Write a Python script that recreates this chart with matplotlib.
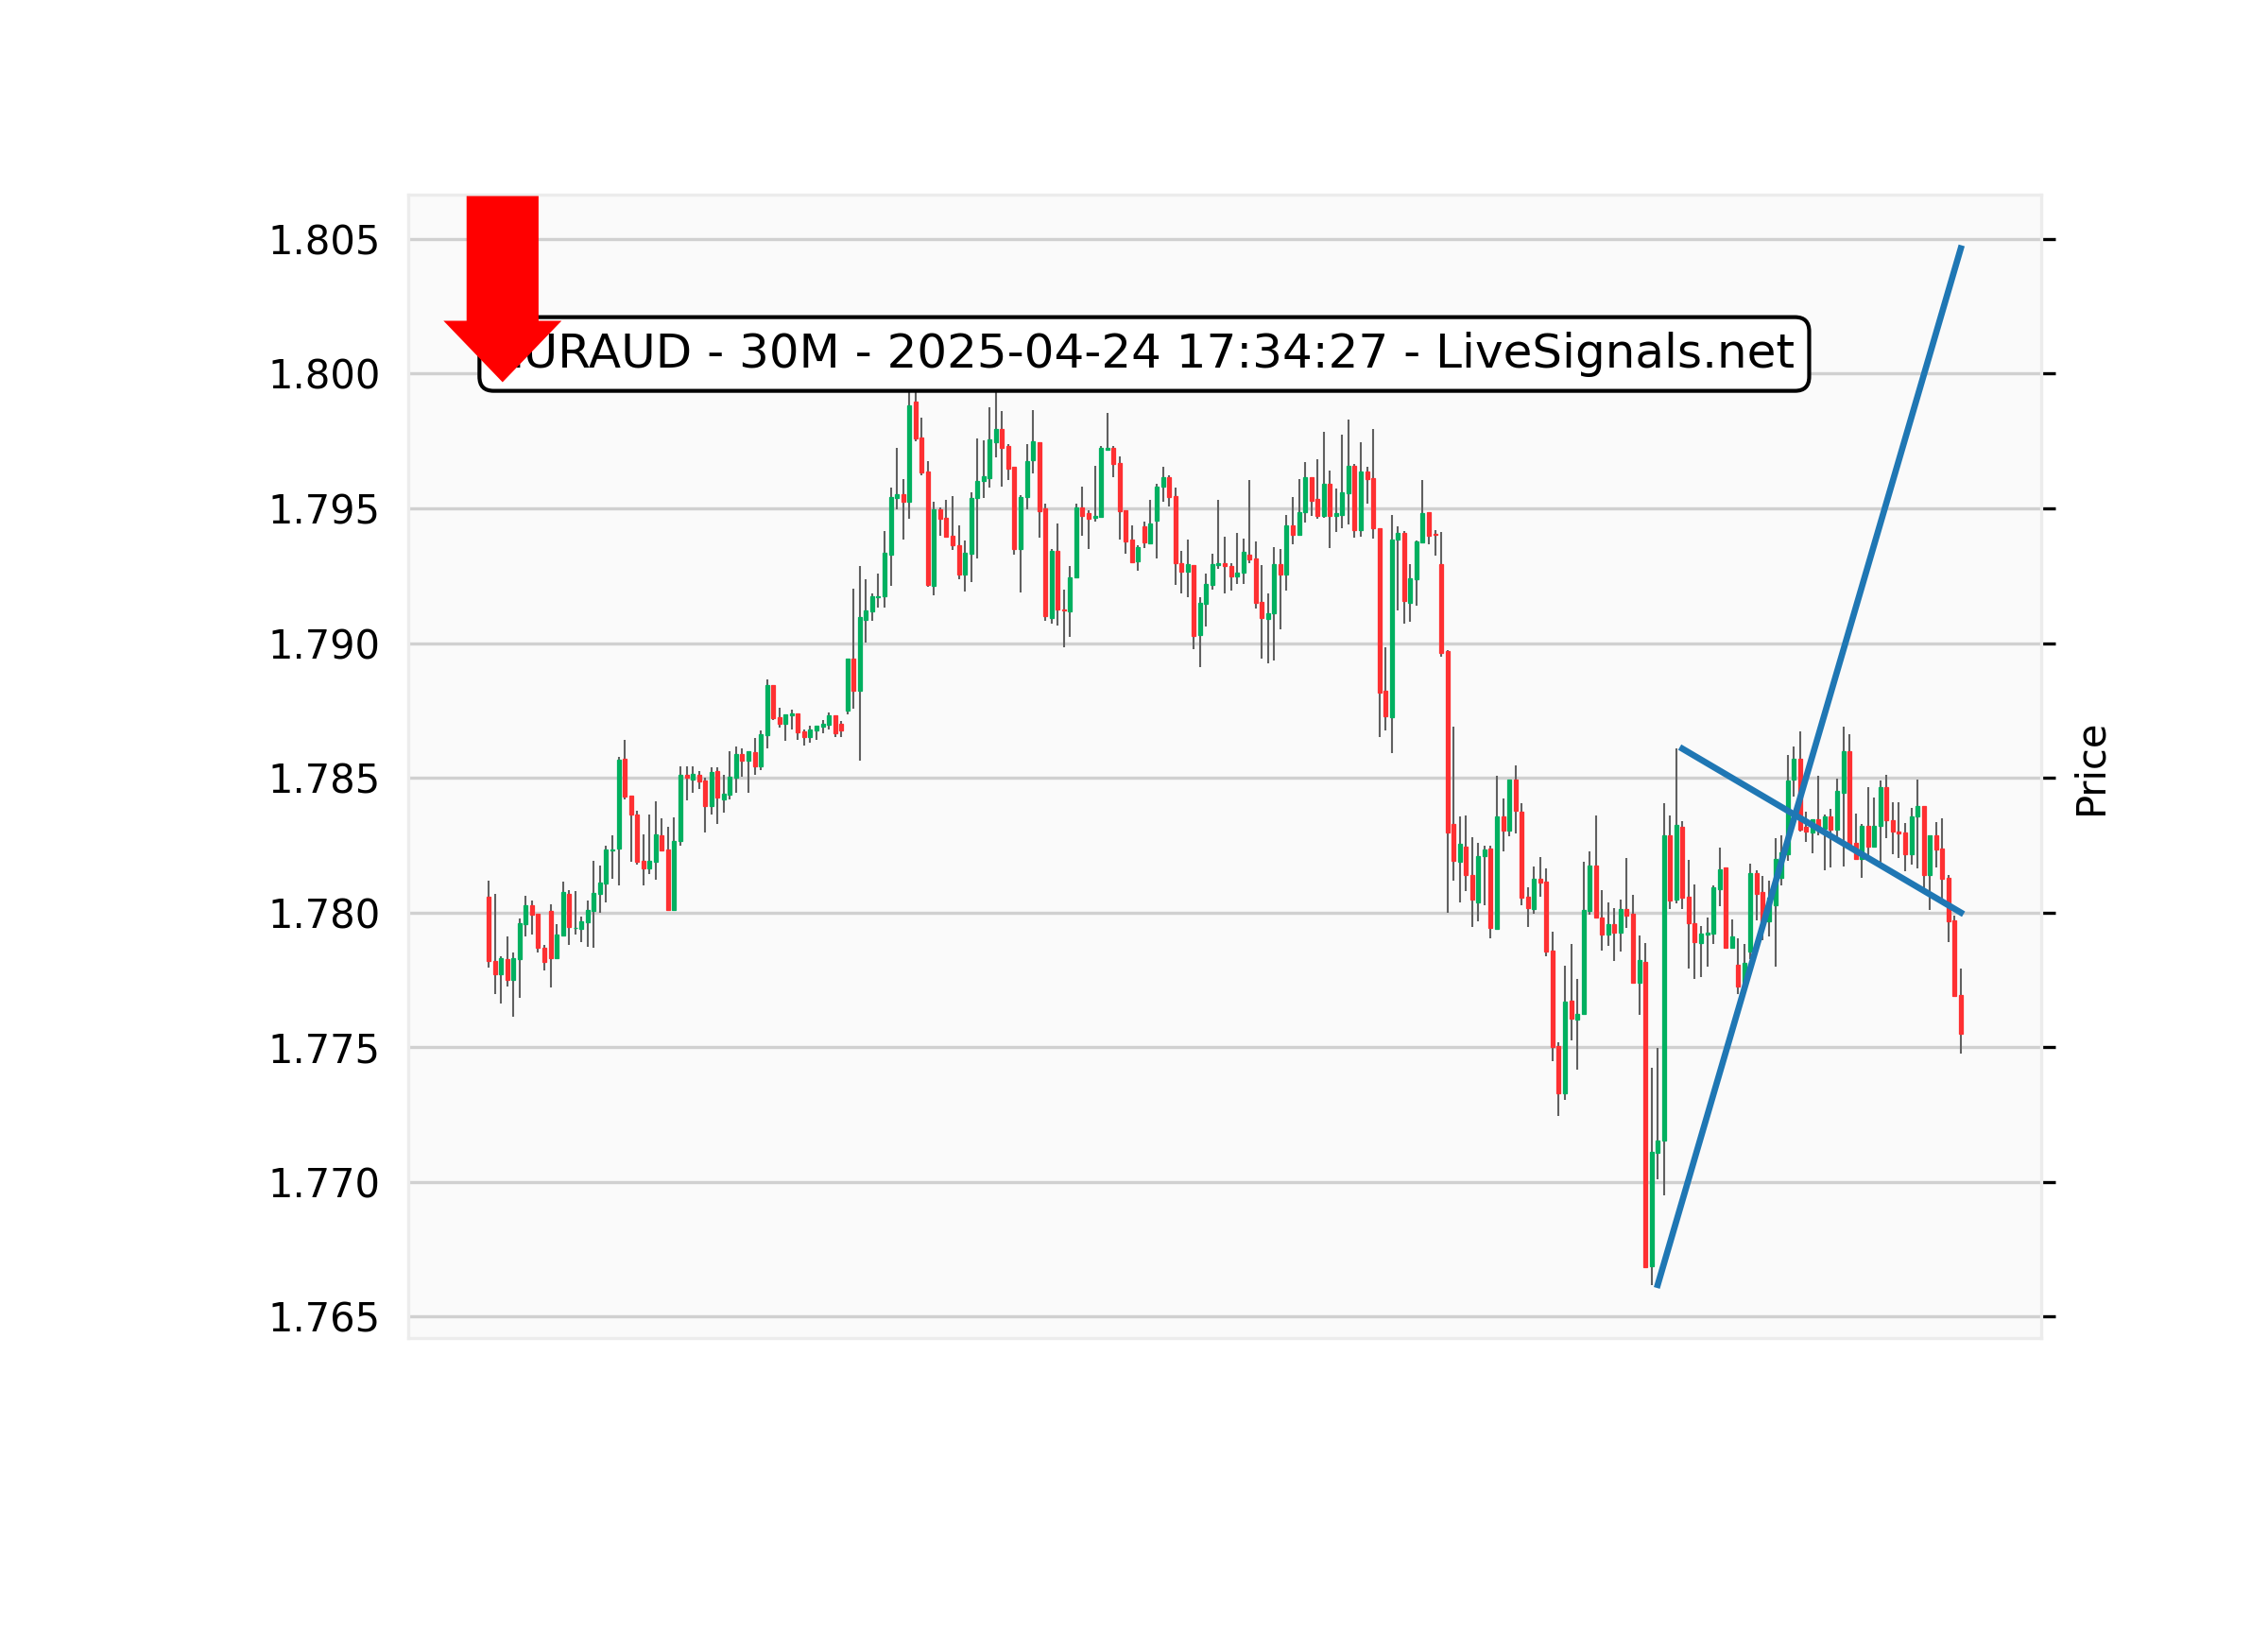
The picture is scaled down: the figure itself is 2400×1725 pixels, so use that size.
import numpy as np
import matplotlib
matplotlib.use("Agg")
import matplotlib.pyplot as plt
from matplotlib.patches import FancyArrow

# ---------------------------
# Price data (30M bars)
# ---------------------------

opens = [
    1.78058, 1.77820, 1.77772, 1.77827, 1.77750, 1.77827, 1.77957, 1.78027, 1.77995, 1.77869,
    1.78006, 1.77830, 1.77915, 1.78070, 1.77942, 1.77938, 1.77964, 1.78006, 1.78068, 1.78108,
    1.78232, 1.78238, 1.78571, 1.78434, 1.78364, 1.78192, 1.78164, 1.78188, 1.78287, 1.78234,
    1.78009, 1.78264, 1.78511, 1.78494, 1.78510, 1.78489, 1.78395, 1.78524, 1.78419, 1.78438,
    1.78500, 1.78587, 1.78562, 1.78596, 1.78541, 1.78658, 1.78844, 1.78725, 1.78701, 1.78732,
    1.78738, 1.78673, 1.78652, 1.78676, 1.78691, 1.78697, 1.78732, 1.78699, 1.78749, 1.78942,
    1.78822, 1.79085, 1.79118, 1.79171, 1.79173, 1.79328, 1.79539, 1.79553, 1.79526, 1.79895,
    1.79764, 1.79637, 1.79214, 1.79497, 1.79465, 1.79399, 1.79363, 1.79255, 1.79331, 1.79538,
    1.79602, 1.79614, 1.79746, 1.79795, 1.79732, 1.79655, 1.79348, 1.79541, 1.79678, 1.79745,
    1.79499, 1.79095, 1.79344, 1.79126, 1.79119, 1.79243, 1.79502, 1.79481, 1.79464, 1.79470,
    1.79719, 1.79725, 1.79668, 1.79493, 1.79383, 1.79303, 1.79432, 1.79371, 1.79453, 1.79581,
    1.79617, 1.79546, 1.79295, 1.79266, 1.79288, 1.79029, 1.79146, 1.79216, 1.79288, 1.79295,
    1.79286, 1.79247, 1.79262, 1.79329, 1.79315, 1.79154, 1.79091, 1.79110, 1.79292, 1.79253,
    1.79436, 1.79403, 1.79485, 1.79616, 1.79534, 1.79471, 1.79590, 1.79471, 1.79477, 1.79557,
    1.79657, 1.79418, 1.79636, 1.79611, 1.79428, 1.78822, 1.78726, 1.79383, 1.79410, 1.79151,
    1.79236, 1.79374, 1.79487, 1.79404, 1.79293, 1.78969, 1.78330, 1.78189, 1.78246, 1.78141,
    1.78036, 1.78211, 1.78237, 1.77941, 1.78356, 1.78303, 1.78494, 1.78374, 1.78058, 1.78012,
    1.78126, 1.78114, 1.77859, 1.77506, 1.77328, 1.77673, 1.77601, 1.77622, 1.78005, 1.78176,
    1.77983, 1.77917, 1.77958, 1.77924, 1.78014, 1.77997, 1.77740, 1.77817, 1.76687, 1.77108,
    1.77153, 1.78285, 1.78049, 1.78317, 1.78060, 1.77962, 1.77886, 1.77920, 1.77921, 1.78086,
    1.78167, 1.77871, 1.77806, 1.77729, 1.77854, 1.78146, 1.78076, 1.77968, 1.78028, 1.78130,
    1.78218, 1.78493, 1.78569, 1.78317, 1.78298, 1.78347, 1.78312, 1.78358, 1.78306, 1.78446,
    1.78598, 1.78259, 1.78200, 1.78323, 1.78244, 1.78321, 1.78466, 1.78344, 1.78302, 1.78298,
    1.78218, 1.78356, 1.78394, 1.78138, 1.78288, 1.78236, 1.78130, 1.77972, 1.77695,
]

highs = [
    1.78118, 1.78070, 1.77837, 1.77912, 1.77851, 1.77979, 1.78063, 1.78044, 1.77995, 1.77881,
    1.78032, 1.77957, 1.78115, 1.78084, 1.78080, 1.77986, 1.78044, 1.78193, 1.78176, 1.78249,
    1.78288, 1.78579, 1.78642, 1.78434, 1.78378, 1.78291, 1.78364, 1.78414, 1.78351, 1.78319,
    1.78355, 1.78543, 1.78541, 1.78541, 1.78524, 1.78501, 1.78539, 1.78539, 1.78512, 1.78600,
    1.78618, 1.78610, 1.78598, 1.78649, 1.78676, 1.78865, 1.78844, 1.78760, 1.78736, 1.78754,
    1.78738, 1.78681, 1.78695, 1.78692, 1.78716, 1.78743, 1.78732, 1.78711, 1.78942, 1.79202,
    1.79286, 1.79237, 1.79184, 1.79258, 1.79416, 1.79579, 1.79723, 1.79608, 1.79960, 1.79960,
    1.79836, 1.79676, 1.79524, 1.79503, 1.79532, 1.79544, 1.79436, 1.79381, 1.79561, 1.79758,
    1.79752, 1.79874, 1.79940, 1.79860, 1.79737, 1.79655, 1.79549, 1.79737, 1.79866, 1.79745,
    1.79516, 1.79348, 1.79444, 1.79198, 1.79286, 1.79518, 1.79581, 1.79493, 1.79658, 1.79733,
    1.79856, 1.79733, 1.79693, 1.79493, 1.79438, 1.79362, 1.79450, 1.79532, 1.79590, 1.79654,
    1.79623, 1.79578, 1.79344, 1.79383, 1.79288, 1.79172, 1.79257, 1.79333, 1.79532, 1.79395,
    1.79295, 1.79409, 1.79388, 1.79604, 1.79376, 1.79288, 1.79184, 1.79358, 1.79348, 1.79475,
    1.79541, 1.79610, 1.79672, 1.79616, 1.79682, 1.79785, 1.79641, 1.79575, 1.79774, 1.79830,
    1.79666, 1.79747, 1.79654, 1.79795, 1.79428, 1.78983, 1.79475, 1.79433, 1.79416, 1.79293,
    1.79381, 1.79607, 1.79487, 1.79418, 1.79412, 1.78975, 1.78691, 1.78357, 1.78360, 1.78280,
    1.78257, 1.78248, 1.78248, 1.78508, 1.78422, 1.78494, 1.78547, 1.78406, 1.78094, 1.78170,
    1.78205, 1.78164, 1.77929, 1.77517, 1.77804, 1.77883, 1.77754, 1.78190, 1.78227, 1.78360,
    1.78083, 1.78037, 1.78017, 1.78049, 1.78201, 1.78065, 1.77914, 1.77886, 1.77424, 1.77497,
    1.78406, 1.78361, 1.78608, 1.78340, 1.78194, 1.78104, 1.77951, 1.77983, 1.78101, 1.78240,
    1.78167, 1.77975, 1.77903, 1.77885, 1.78181, 1.78156, 1.78136, 1.78118, 1.78277, 1.78288,
    1.78583, 1.78616, 1.78674, 1.78376, 1.78347, 1.78507, 1.78364, 1.78384, 1.78496, 1.78690,
    1.78663, 1.78367, 1.78329, 1.78467, 1.78426, 1.78489, 1.78511, 1.78411, 1.78408, 1.78332,
    1.78390, 1.78493, 1.78397, 1.78285, 1.78335, 1.78349, 1.78138, 1.77990, 1.77791,
]

lows = [
    1.77795, 1.77699, 1.77661, 1.77725, 1.77612, 1.77682, 1.77910, 1.77918, 1.77851, 1.77784,
    1.77723, 1.77828, 1.77913, 1.77881, 1.77920, 1.77889, 1.77874, 1.77871, 1.77998, 1.78036,
    1.78124, 1.78099, 1.78419, 1.78188, 1.78177, 1.78099, 1.78143, 1.78121, 1.78232, 1.78009,
    1.78009, 1.78249, 1.78415, 1.78446, 1.78460, 1.78296, 1.78363, 1.78328, 1.78370, 1.78421,
    1.78446, 1.78503, 1.78445, 1.78512, 1.78527, 1.78611, 1.78713, 1.78685, 1.78636, 1.78679,
    1.78640, 1.78619, 1.78632, 1.78640, 1.78664, 1.78678, 1.78652, 1.78650, 1.78734, 1.78755,
    1.78564, 1.79003, 1.79083, 1.79132, 1.79132, 1.79211, 1.79497, 1.79383, 1.79463, 1.79750,
    1.79623, 1.79208, 1.79176, 1.79399, 1.79395, 1.79345, 1.79237, 1.79190, 1.79225, 1.79315,
    1.79538, 1.79579, 1.79691, 1.79582, 1.79606, 1.79327, 1.79187, 1.79498, 1.79631, 1.79391,
    1.79083, 1.79073, 1.79064, 1.78985, 1.79023, 1.79243, 1.79397, 1.79350, 1.79450, 1.79467,
    1.79713, 1.79617, 1.79385, 1.79333, 1.79301, 1.79268, 1.79354, 1.79371, 1.79315, 1.79526,
    1.79508, 1.79216, 1.79184, 1.79169, 1.78976, 1.78912, 1.79060, 1.79200, 1.79274, 1.79186,
    1.79195, 1.79219, 1.79218, 1.79298, 1.79130, 1.78943, 1.78926, 1.78937, 1.79052, 1.79196,
    1.79368, 1.79403, 1.79447, 1.79472, 1.79462, 1.79466, 1.79353, 1.79412, 1.79427, 1.79441,
    1.79393, 1.79396, 1.79519, 1.79387, 1.78650, 1.78675, 1.78592, 1.79123, 1.79073, 1.79079,
    1.79138, 1.79371, 1.79368, 1.79324, 1.78951, 1.78000, 1.78117, 1.78038, 1.78081, 1.77948,
    1.77968, 1.78028, 1.77906, 1.77941, 1.78227, 1.78284, 1.78295, 1.78028, 1.77948, 1.77997,
    1.78058, 1.77839, 1.77449, 1.77245, 1.77303, 1.77525, 1.77418, 1.77622, 1.77991, 1.77980,
    1.77857, 1.77878, 1.77819, 1.77854, 1.77944, 1.77740, 1.77621, 1.76683, 1.76618, 1.77010,
    1.76951, 1.78014, 1.78035, 1.78014, 1.77792, 1.77753, 1.77760, 1.77799, 1.77885, 1.78024,
    1.77864, 1.77868, 1.77699, 1.77700, 1.77826, 1.77972, 1.77896, 1.77912, 1.77799, 1.78100,
    1.78192, 1.78431, 1.78300, 1.78262, 1.78220, 1.78288, 1.78157, 1.78168, 1.78267, 1.78171,
    1.78253, 1.78195, 1.78130, 1.78212, 1.78244, 1.78183, 1.78277, 1.78218, 1.78204, 1.78154,
    1.78177, 1.78165, 1.78089, 1.78010, 1.78169, 1.78043, 1.77890, 1.77689, 1.77477,
]

closes = [
    1.77819, 1.77772, 1.77830, 1.77750, 1.77830, 1.77960, 1.78027, 1.77992, 1.77869, 1.77816,
    1.77830, 1.77918, 1.78076, 1.77945, 1.77943, 1.77967, 1.78009, 1.78073, 1.78111, 1.78234,
    1.78235, 1.78567, 1.78431, 1.78364, 1.78188, 1.78164, 1.78192, 1.78290, 1.78232, 1.78009,
    1.78264, 1.78511, 1.78501, 1.78515, 1.78487, 1.78395, 1.78522, 1.78428, 1.78441, 1.78503,
    1.78587, 1.78562, 1.78598, 1.78544, 1.78661, 1.78844, 1.78722, 1.78701, 1.78736, 1.78738,
    1.78670, 1.78652, 1.78678, 1.78692, 1.78701, 1.78732, 1.78666, 1.78676, 1.78942, 1.78822,
    1.79097, 1.79120, 1.79174, 1.79174, 1.79334, 1.79541, 1.79553, 1.79526, 1.79883, 1.79761,
    1.79635, 1.79216, 1.79497, 1.79462, 1.79395, 1.79362, 1.79255, 1.79334, 1.79539, 1.79602,
    1.79620, 1.79757, 1.79795, 1.79725, 1.79649, 1.79348, 1.79541, 1.79674, 1.79748, 1.79491,
    1.79099, 1.79344, 1.79124, 1.79120, 1.79245, 1.79502, 1.79473, 1.79461, 1.79473, 1.79725,
    1.79725, 1.79664, 1.79488, 1.79379, 1.79301, 1.79356, 1.79374, 1.79444, 1.79582, 1.79617,
    1.79541, 1.79295, 1.79266, 1.79292, 1.79025, 1.79148, 1.79218, 1.79292, 1.79295, 1.79286,
    1.79247, 1.79262, 1.79339, 1.79312, 1.79151, 1.79093, 1.79110, 1.79292, 1.79253, 1.79436,
    1.79403, 1.79487, 1.79616, 1.79529, 1.79471, 1.79590, 1.79471, 1.79481, 1.79559, 1.79657,
    1.79418, 1.79636, 1.79609, 1.79425, 1.78815, 1.78730, 1.79384, 1.79410, 1.79155, 1.79239,
    1.79378, 1.79481, 1.79397, 1.79401, 1.78962, 1.78298, 1.78192, 1.78254, 1.78140, 1.78047,
    1.78211, 1.78233, 1.77944, 1.78356, 1.78303, 1.78494, 1.78377, 1.78055, 1.78017, 1.78126,
    1.78112, 1.77854, 1.77500, 1.77328, 1.77669, 1.77605, 1.77622, 1.78009, 1.78176, 1.77983,
    1.77917, 1.77958, 1.77924, 1.78014, 1.77990, 1.77740, 1.77822, 1.76683, 1.77111, 1.77153,
    1.78285, 1.78044, 1.78324, 1.78056, 1.77961, 1.77889, 1.77921, 1.77925, 1.78093, 1.78162,
    1.77871, 1.77910, 1.77726, 1.77812, 1.78146, 1.78069, 1.77965, 1.78056, 1.78200, 1.78224,
    1.78489, 1.78569, 1.78309, 1.78300, 1.78347, 1.78309, 1.78358, 1.78306, 1.78450, 1.78598,
    1.78253, 1.78200, 1.78323, 1.78244, 1.78323, 1.78464, 1.78341, 1.78300, 1.78294, 1.78218,
    1.78358, 1.78394, 1.78138, 1.78285, 1.78233, 1.78127, 1.77969, 1.77689, 1.77551,
]

# trend lines (bar index, price)
rise_x = [189, 238]
rise_y = [1.76618, 1.80465]
fall_x = [193, 238]
fall_y = [1.78608, 1.78000]

# sell signal marker
signal_x = 2.25
signal_top = 1.80652
signal_tip = 1.79979

title = "EURAUD - 30M - 2025-04-24 17:34:27 - LiveSignals.net"
price_ticks = [1.765, 1.770, 1.775, 1.780, 1.785, 1.790, 1.795, 1.800, 1.805]

UP = "#00b060"
DOWN = "#fe3032"
WICK = "#606060"


# ---------------------------
# Figure
# ---------------------------

fig = plt.figure(figsize=(8, 5.75), dpi=300)
ax = fig.add_axes([0.18, 0.179, 0.72, 0.7015])
ax.set_facecolor("#fafafa")

o = np.array(opens)
h = np.array(highs)
l = np.array(lows)
c = np.array(closes)
x = np.arange(len(o))

colors = np.where(c >= o, UP, DOWN)

# wicks first, bodies on top
ax.vlines(x, l, h, color=WICK, linewidth=0.5, zorder=2)
ax.bar(x, np.abs(c - o), bottom=np.minimum(o, c), width=0.62,
       color=colors, edgecolor=colors, linewidth=0.3, zorder=3)

# trend lines
ax.plot(rise_x, rise_y, color="#1f77b4", linewidth=1.6, zorder=4)
ax.plot(fall_x, fall_y, color="#1f77b4", linewidth=1.6, zorder=4)

# header box
ax.text(106, 1.80024, title, ha="center", va="baseline", fontsize=12, zorder=5,
        bbox=dict(boxstyle="round,pad=0.3", fc="white", ec="black", lw=1.0))

# sell arrow
arrow = FancyArrow(signal_x, signal_top, 0, signal_tip - signal_top,
                   width=11.0, head_width=17.6, head_length=0.0021,
                   length_includes_head=True, color="red", zorder=6)
ax.add_patch(arrow)

# axes styling
ax.set_xlim(-13, 251)
ax.set_ylim(1.7642, 1.80664)
ax.set_yticks(price_ticks)
ax.set_yticklabels([f"{p:.3f}" for p in price_ticks])
ax.yaxis.grid(True, color="#d0d0d0", linewidth=0.8)
ax.set_axisbelow(True)

ax.tick_params(axis="x", bottom=False, labelbottom=False)
ax.tick_params(axis="y", left=False, labelleft=True, right=True, labelright=False,
               labelsize=10, length=3.5, width=0.8)

ax.set_ylabel("Price", fontsize=10)
ax.yaxis.set_label_position("right")

for s in ax.spines.values():
    s.set_color("#ececec")
    s.set_linewidth(0.8)

fig.savefig("out.png", dpi=300, facecolor="white")
